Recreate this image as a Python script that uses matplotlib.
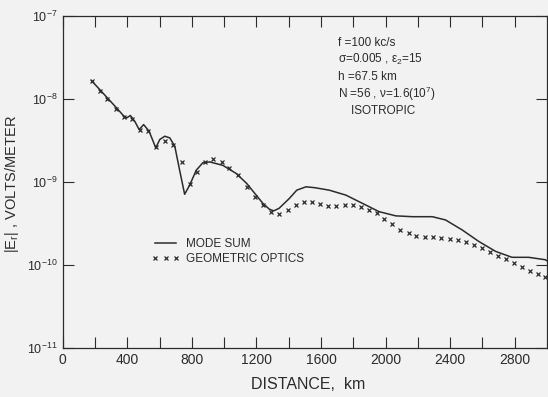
import numpy as np
import matplotlib
matplotlib.use("Agg")
import matplotlib.pyplot as plt

plt.rcParams["font.family"] = ["Liberation Sans", "DejaVu Sans"]
plt.rcParams["mathtext.fontset"] = "custom"
plt.rcParams["mathtext.rm"] = "Liberation Sans"
plt.rcParams["mathtext.it"] = "Liberation Sans:italic"
plt.rcParams["mathtext.default"] = "regular"

ink = "#2b2b2b"
bg = "#f2f2f2"

# mode sum curve (distance km, |Er| V/m)
mode_km = [178, 230, 282, 334, 375, 395, 419, 446, 473, 501, 535, 576, 601,
           632, 663, 694, 724, 755, 786, 827, 868, 910, 992, 1075, 1140,
           1190, 1240, 1280, 1307, 1340, 1404, 1450, 1507, 1560, 1651, 1754,
           1857, 1960, 2063, 2166, 2290, 2372, 2475, 2578, 2682, 2784, 2887,
           2990, 3000]
mode_E = [1.66e-8, 1.29e-8, 1.00e-8, 7.76e-9, 6.31e-9, 5.89e-9, 6.31e-9,
          5.37e-9, 4.27e-9, 4.90e-9, 4.07e-9, 2.57e-9, 3.24e-9, 3.55e-9,
          3.39e-9, 2.69e-9, 1.38e-9, 7.08e-10, 9.12e-10, 1.38e-9, 1.70e-9,
          1.74e-9, 1.58e-9, 1.26e-9, 9.55e-10, 7.24e-10, 5.50e-10, 4.68e-10,
          4.47e-10, 4.79e-10, 6.31e-10, 7.94e-10, 8.71e-10, 8.51e-10,
          7.94e-10, 6.92e-10, 5.50e-10, 4.37e-10, 3.89e-10, 3.80e-10,
          3.80e-10, 3.47e-10, 2.63e-10, 1.91e-10, 1.45e-10, 1.23e-10,
          1.23e-10, 1.15e-10, 1.12e-10]

# geometric optics points
go_km = [178, 230, 277, 329, 382, 430, 477, 531, 578, 632, 685, 737, 788,
         834, 883, 933, 984, 1033, 1087, 1140, 1192, 1242, 1291, 1342, 1394,
         1446, 1495, 1544, 1596, 1645, 1695, 1746, 1796, 1845, 1899, 1946,
         1993, 2043, 2092, 2144, 2189, 2245, 2294, 2346, 2397, 2447, 2496,
         2546, 2595, 2645, 2696, 2745, 2795, 2846, 2898, 2947, 2990]
go_E = [1.66e-8, 1.26e-8, 1.00e-8, 7.6e-9, 6.0e-9, 5.75e-9, 4.27e-9,
        4.07e-9, 2.63e-9, 3.09e-9, 2.82e-9, 1.74e-9, 9.5e-10, 1.32e-9,
        1.74e-9, 1.86e-9, 1.74e-9, 1.48e-9, 1.20e-9, 8.7e-10, 6.6e-10,
        5.25e-10, 4.27e-10, 4.07e-10, 4.57e-10, 5.25e-10, 5.75e-10,
        5.75e-10, 5.37e-10, 5.13e-10, 5.13e-10, 5.25e-10, 5.25e-10, 5.0e-10,
        4.57e-10, 4.17e-10, 3.55e-10, 3.09e-10, 2.63e-10, 2.40e-10,
        2.24e-10, 2.14e-10, 2.14e-10, 2.09e-10, 2.04e-10, 2.0e-10, 1.86e-10,
        1.74e-10, 1.58e-10, 1.41e-10, 1.29e-10, 1.17e-10, 1.05e-10, 9.5e-11,
        8.5e-11, 7.8e-11, 7.1e-11]

x_labels = [0, 400, 800, 1200, 1600, 2000, 2400, 2800]
y_decades = [1e-11, 1e-10, 1e-9, 1e-8, 1e-7]
y_labels = ["10$^{-11}$", "10$^{-10}$", "10$^{-9}$", "10$^{-8}$", "10$^{-7}$"]

params = ["f =100 kc/s",
          "$\\sigma$=0.005 , $\\epsilon_2$=15",
          "h =67.5 km",
          "N =56 , $\\nu$=1.6(10$^7$)",
          "    ISOTROPIC"]

fig = plt.figure(figsize=(5.48, 3.97), dpi=100, facecolor=bg)
ax = fig.add_axes([0.1146, 0.1242, 0.8854 - 0.002, 0.8355])
ax.set_facecolor(bg)

ax.plot(mode_km, mode_E, color=ink, lw=1.1, label="MODE SUM")
ax.plot(go_km, go_E, ls="none", marker="x", ms=3.5, mew=0.9, color=ink,
        label="GEOMETRIC OPTICS")

ax.set_yscale("log")
ax.set_xlim(0, 3000)
ax.set_ylim(1e-11, 1e-7)

ax.set_xticks(x_labels)
ax.set_xticklabels([str(v) for v in x_labels], fontsize=10)
ax.set_xticks(np.arange(200, 3000, 400), minor=True)
ax.set_yticks(y_decades)
ax.set_yticklabels(y_labels, fontsize=9)
ax.yaxis.set_minor_locator(matplotlib.ticker.NullLocator())
ax.tick_params(which="both", direction="in", length=8, width=0.8,
               color=ink, labelcolor=ink, top=True, right=True, pad=4)

for s in ax.spines.values():
    s.set_color(ink)
    s.set_linewidth(0.9)

ax.set_xlabel("DISTANCE,  km", fontsize=11.5, color=ink)
ax.xaxis.set_label_coords(0.506, -0.088)
ax.set_ylabel("|E$_r$| , VOLTS/METER", fontsize=10.5, color=ink)
ax.yaxis.set_label_coords(-0.086, 0.494)

for i, line in enumerate(params):
    ax.text(0.569, 0.919 - i * 0.051, line, transform=ax.transAxes,
            fontsize=8.5, color=ink, va="center", ha="left")

leg = ax.legend(loc="upper left", bbox_to_anchor=(0.183, 0.33),
                frameon=False, fontsize=8.5, handlelength=2.4,
                handletextpad=0.55, numpoints=3, borderpad=0,
                borderaxespad=0, labelspacing=0.25)
for t in leg.get_texts():
    t.set_color(ink)

fig.savefig("out.png", dpi=100, facecolor=bg)
